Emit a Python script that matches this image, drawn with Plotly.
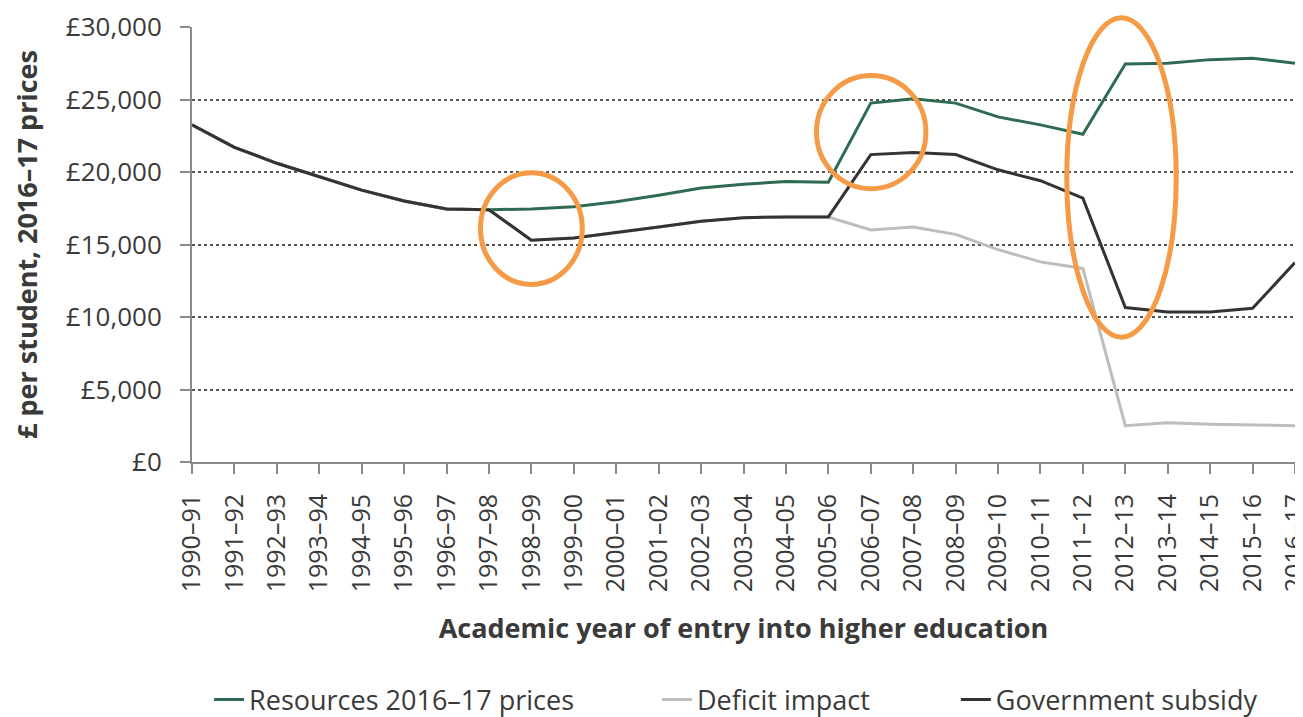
import plotly.graph_objects as go

# academic years on the x axis
years = [
    "1990–91", "1991–92", "1992–93", "1993–94", "1994–95", "1995–96",
    "1996–97", "1997–98", "1998–99", "1999–00", "2000–01", "2001–02",
    "2002–03", "2003–04", "2004–05", "2005–06", "2006–07", "2007–08",
    "2008–09", "2009–10", "2010–11", "2011–12", "2012–13", "2013–14",
    "2014–15", "2015–16", "2016–17"]

# £ per student, 2016-17 prices
resources = [
    23250, 21700, 20600, 19650, 18750, 18000, 17450, 17400, 17450, 17600,
    17950, 18400, 18900, 19150, 19350, 19300, 24750, 25050, 24750, 23800,
    23250, 22600, 27450, 27500, 27750, 27850, 27500]

deficit_impact = [
    23250, 21700, 20600, 19650, 18750, 18000, 17450, 17400, 15300, 15450,
    15800, 16200, 16600, 16850, 16900, 16900, 16000, 16200, 15700, 14650,
    13800, 13350, 2500, 2700, 2600, 2550, 2500]

gov_subsidy = [
    23250, 21700, 20600, 19650, 18750, 18000, 17450, 17400, 15300, 15450,
    15800, 16200, 16600, 16850, 16900, 16900, 21200, 21350, 21200, 20150,
    19400, 18200, 10650, 10350, 10350, 10600, 13750]

y_ticks = [0, 5000, 10000, 15000, 20000, 25000, 30000]
y_tick_labels = ["£0", "£5,000", "£10,000", "£15,000", "£20,000", "£25,000", "£30,000"]

GREEN = "#2e6b50"
GREY = "#bdbdbd"
BLACK = "#333333"
ORANGE = "#f59a47"
AXIS = "#8a8a8a"
TEXT = "#3a3a3a"
FONT = "Open Sans"

fig = go.Figure()

# each series gets its own legend so the entries can be spaced like the original
def add_line(values, name, colour, legend):
    fig.add_trace(go.Scatter(
        x=years, y=values, mode="lines", name=name, legend=legend,
        line=dict(color=colour, width=3)))

add_line(resources, "Resources 2016–17 prices", GREEN, "legend")
add_line(deficit_impact, "Deficit impact", GREY, "legend2")
add_line(gov_subsidy, "Government subsidy", BLACK, "legend3")

# orange circles highlighting the policy changes
circle = dict(type="circle", line=dict(color=ORANGE, width=5), layer="above")
fig.add_shape(circle, xref="x", yref="y", x0=6.8, x1=9.2, y0=12250, y1=19950)
fig.add_shape(circle, xref="x", yref="y", x0=14.72, x1=17.3, y0=18850, y1=26650)
fig.add_shape(circle, xref="x", yref="paper", x0=20.62, x1=23.2, y0=0.287, y1=1.021)

def legend_box(x):
    return dict(
        orientation="h", x=x, xanchor="left", y=-0.547, yanchor="middle",
        font=dict(size=27, color=TEXT), bgcolor="rgba(0,0,0,0)")

# the page body adds an 8px margin, so the figure is 8px smaller each way
fig.update_layout(
    width=1295, height=709,
    margin=dict(l=184, r=8, t=19, b=255, autoexpand=False),
    paper_bgcolor="white", plot_bgcolor="white",
    font=dict(family=FONT, size=26, color=TEXT),
    showlegend=True,
    legend=legend_box(0.0155),
    legend2=legend_box(0.4215),
    legend3=legend_box(0.6925),
    xaxis=dict(
        type="category", range=[0, 26], tickangle=-90,
        showline=True, linecolor=AXIS, linewidth=2,
        ticks="outside", ticklen=10, tickcolor=AXIS, tickwidth=2,
        ticklabelstandoff=10,
        showgrid=False, tickfont=dict(size=25),
        title=dict(text="<b>Academic year of entry into higher education</b>",
                   font=dict(size=27), standoff=28)),
    yaxis=dict(
        range=[0, 30000], tickvals=y_ticks, ticktext=y_tick_labels,
        showline=True, linecolor=AXIS, linewidth=2,
        ticks="outside", ticklen=10, tickcolor=AXIS, tickwidth=2,
        ticklabelstandoff=13,
        showgrid=True, gridcolor="#555555", griddash="dot", gridwidth=1.5,
        zeroline=False, tickfont=dict(size=26),
        title=dict(text="<b>£ per student, 2016–17 prices</b>",
                   font=dict(size=27), standoff=29)),
)

fig.write_html("out.html")
